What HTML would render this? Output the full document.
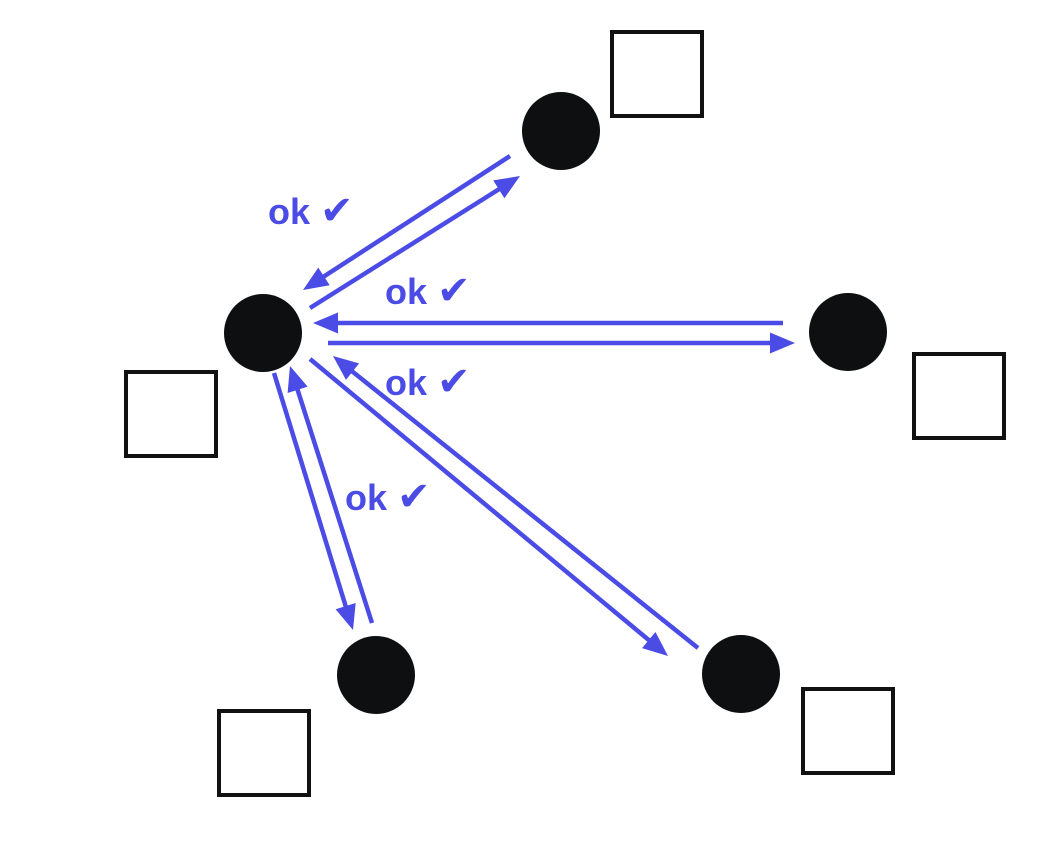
<!DOCTYPE html>
<html><head><meta charset="utf-8"><style>
html,body{margin:0;padding:0;background:#fff;}
svg{display:block;}
text{font-family:"Liberation Sans","DejaVu Sans",sans-serif;font-weight:bold;fill:#4b4be6;}
</style></head><body>
<svg id="s" width="1064" height="860" viewBox="0 0 1064 860" xmlns="http://www.w3.org/2000/svg"></svg>
<script>
const nodes=[[263,333],[561,131],[848,332],[376,675],[741,674]];
const boxes=[[612,32],[914,354],[126,372],[219,711],[803,689]];
const arrows=[[510,156,303,290],[310,308,520,176],[783,323,313,323],[328,343,795,343],[310,359,668,656],[698,648,333,356],[274,373,353,630],[372,623,290,366]];
const labels=[[268,224],[385,304],[385,395],[345,510]];
const NS="http://www.w3.org/2000/svg";
const s=document.getElementById('s');
function mk(t,a){const e=document.createElementNS(NS,t);for(const k in a)e.setAttribute(k,a[k]);s.appendChild(e);return e;}
arrows.forEach((a,i)=>{
  const [x1,y1,x2,y2]=a;const dx=x2-x1,dy=y2-y1,L=Math.hypot(dx,dy),ux=dx/L,uy=dy/L;
  const hl=25,hw=10.5;const bx=x2-ux*hl,by=y2-uy*hl;
  const l=mk('line',{x1:x1,y1:y1,x2:bx+ux*2,y2:by+uy*2,stroke:'#4b4be6','stroke-width':4.5});
  
  
  const p=mk('polygon',{points:`${x2},${y2} ${bx-uy*hw},${by+ux*hw} ${bx+uy*hw},${by-ux*hw}`,fill:'#4b4be6'});
  
  
});
nodes.forEach((n,i)=>{
  const c=mk('circle',{cx:n[0],cy:n[1],r:39,fill:'#0d0f10'});
  
  
});
boxes.forEach((b,i)=>{
  const r=mk('rect',{x:b[0],y:b[1],width:90,height:84,fill:'none',stroke:'#111','stroke-width':4});
  
  
});
labels.forEach((t,i)=>{
  const e=mk('text',{x:t[0],y:t[1],'font-size':36});
  e.innerHTML='ok <tspan font-size="40">✔</tspan>';
  
  
});
</script>
</body></html>
